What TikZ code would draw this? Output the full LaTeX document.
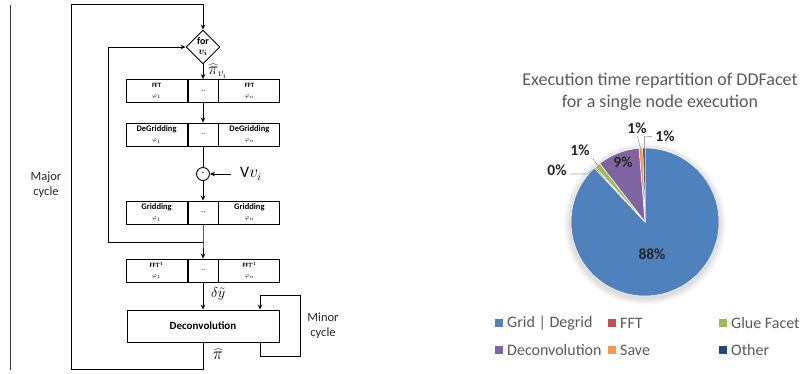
\documentclass[tikz,border=0pt]{standalone}
\usepackage{fontspec}
\setmainfont{Carlito}
\usetikzlibrary{positioning,shapes.geometric,arrows.meta}

\definecolor{GridBlue}{HTML}{4F81BD}
\definecolor{FftRed}{HTML}{C0504D}
\definecolor{GlueGreen}{HTML}{9BBB59}
\definecolor{DeconvPurple}{HTML}{8064A2}
\definecolor{SaveOrange}{HTML}{F79646}
\definecolor{OtherNavy}{HTML}{1F497D}
\definecolor{ChartGray}{HTML}{595959}

\tikzstyle{StageCell}=[rectangle, draw=black, line width=0.9pt, minimum width=61pt, minimum height=23pt, inner sep=0pt, align=center, font=\fontsize{8.5}{9}\selectfont\bfseries]
\tikzstyle{DotsCell}=[rectangle, draw=black, line width=0.9pt, minimum width=30pt, minimum height=23pt, inner sep=0pt, font=\fontsize{6}{7}\selectfont]
\tikzstyle{Flow}=[line width=0.9pt, -{Stealth[length=5pt,width=4.5pt]}]
\tikzstyle{Wire}=[line width=0.9pt]
\tikzstyle{CycleText}=[align=center, font=\fontsize{12.5}{15}\selectfont, text=black!85]
\tikzstyle{MathLabel}=[inner sep=0pt, font=\fontsize{16}{16}\selectfont]
\tikzstyle{PieLabel}=[font=\fontsize{15.5}{16}\selectfont\bfseries, text=black!85, inner sep=0pt]
\tikzstyle{Leader}=[draw=black!35, line width=0.6pt]
\tikzstyle{LegendText}=[font=\fontsize{16}{17}\selectfont, text=ChartGray, anchor=west, inner sep=0pt]

\newcommand{\phiidx}[1]{{\fontsize{6}{6}\selectfont\mdseries $\varphi_{#1}$}}

\begin{document}
\begin{tikzpicture}[x=1pt, y=1pt]
			\useasboundingbox (0,0) rectangle (803,-373);

			%Separador
			\draw[line width=0.8pt, black!80] (10,-5) -- (10,-370);

			%Nodos
			\node[diamond, draw=black, line width=0.9pt, minimum width=34pt, minimum height=34pt, inner sep=0pt,
				label={[align=center, inner sep=0pt, font=\fontsize{10}{9.5}\selectfont\bfseries\boldmath]center:for\\$v_i$}]
				(for) at (203,-47) {};

			\node[DotsCell]		(fft_dots)		at (203,-91)		{...};
			\node[StageCell, font=\fontsize{6.5}{8}\selectfont\bfseries]	(fft_first)	[left=0pt of fft_dots]	{FFT\\[2pt]\phiidx{1}};
			\node[StageCell, font=\fontsize{6.5}{8}\selectfont\bfseries]	(fft_last)	[right=0pt of fft_dots]	{FFT\\[2pt]\phiidx{n}};

			\node[DotsCell]		(degrid_dots)	at (203,-134.5)	{...};
			\node[StageCell]		(degrid_first)	[left=0pt of degrid_dots]	{DeGridding\\[1pt]\phiidx{1}};
			\node[StageCell]		(degrid_last)	[right=0pt of degrid_dots]	{DeGridding\\[1pt]\phiidx{n}};

			\node[circle, draw=black, line width=0.9pt, minimum size=13pt, inner sep=0pt, font=\small]	(minus)	at (203,-174)	{-};
			\node[MathLabel, anchor=west]	(vin)	at (240,-174)	{V$v_i$};

			\node[DotsCell]		(grid_dots)		at (203,-212.5)	{...};
			\node[StageCell]		(grid_first)	[left=0pt of grid_dots]		{Gridding\\[1pt]\phiidx{1}};
			\node[StageCell]		(grid_last)		[right=0pt of grid_dots]	{Gridding\\[1pt]\phiidx{n}};

			\node[DotsCell]		(ifft_dots)		at (203,-270.5)	{...};
			\node[StageCell, font=\fontsize{6.5}{8}\selectfont\bfseries]	(ifft_first)	[left=0pt of ifft_dots]		{FFT\textsuperscript{-1}\\[2pt]\phiidx{1}};
			\node[StageCell, font=\fontsize{6.5}{8}\selectfont\bfseries]	(ifft_last)		[right=0pt of ifft_dots]	{FFT\textsuperscript{-1}\\[2pt]\phiidx{n}};

			\node[rectangle, draw=black, line width=0.9pt, minimum width=152pt, minimum height=32pt, font=\fontsize{11}{12}\selectfont\bfseries]	(deconv)	at (203,-326)	{Deconvolution};

			\node[MathLabel, anchor=west]	(pihat_vi)	at (208,-71)	{$\widehat{\pi}_{v_i}$};
			\node[MathLabel, anchor=west, font=\fontsize{13.5}{14}\selectfont]	(dytilde)	at (211,-294)	{$\delta\tilde{y}$};
			\node[MathLabel]	(pihat)	at (218,-354)	{$\widehat{\pi}$};

			\node[CycleText]	(major_text)	at (46,-185)	{Major\\cycle};
			\node[CycleText]	(minor_text)	at (323,-326)	{Minor\\cycle};

			\coordinate (major_bot)		at (203,-369);
			\coordinate (major_left)	at (71,-4);
			\coordinate (inner_join)	at (203,-242);
			\coordinate (inner_left)	at (108,-47);
			\coordinate (minor_bot)		at (300,-356);
			\coordinate (minor_top)		at (300,-295);

			%Conexiones
			\draw[Flow] (deconv.south) -- (major_bot) -| (major_left) -| (for.north);
			\draw[Flow] (for.south) -- (fft_dots.north);
			\draw[Flow] (fft_dots.south) -- (degrid_dots.north);
			\draw[Wire] (degrid_dots.south) -- (minus.north);
			\draw[Flow] ([xshift=-9pt]vin.west) -- (minus.east);
			\draw[Flow] (minus.south) -- (grid_dots.north);
			\draw[Flow] (grid_dots.south) -- (inner_join) -- (ifft_dots.north);
			\draw[Flow] (inner_join) -| (inner_left) -- (for.west);
			\draw[Flow] (ifft_dots.south) -- (deconv.north);
			\draw[Flow] ([xshift=57pt]deconv.south) |- (minor_bot) -- (minor_top) -| ([xshift=57pt]deconv.north);

			%Grafico
			\node[font=\fontsize{18}{21.5}\selectfont, text=ChartGray, align=center]	(chart_title)	at (660,-92)	{Execution time repartition of DDFacet\\for a single node execution};

			\coordinate (pie_c) at (645,-222);
			\foreach \r in {1,...,7}
				\fill[black, opacity=0.018] ([yshift=-2pt]pie_c) circle[radius=74pt+\r pt];
			\foreach \a/\b/\col in {-226.8/90/GridBlue, 90/91.8/OtherNavy, 91.8/94.68/SaveOrange, 94.68/127.8/DeconvPurple, 127.8/132.12/GlueGreen, 132.12/133.2/FftRed}
				\fill[\col, draw=white, line width=0.5pt] (pie_c) -- ++(\a:74pt) arc[start angle=\a, end angle=\b, radius=74pt] -- cycle;

			\node[PieLabel]	(pct_grid)		at (652,-254)	{88\%};
			\node[PieLabel]	(pct_deconv)	at (623,-162)	{9\%};
			\node[PieLabel]	(pct_glue)		at (580,-150)	{1\%};
			\node[PieLabel]	(pct_fft)		at (557,-170)	{0\%};
			\node[PieLabel]	(pct_save)		at (637,-128)	{1\%};
			\node[PieLabel]	(pct_other)		at (665,-136)	{1\%};

			\draw[Leader] ([shift={(3pt,-3pt)}]pct_glue.south east) -- ([shift={(130:73pt)}]pie_c);
			\draw[Leader] ([shift={(3pt,-4pt)}]pct_fft.east) -- ++(17pt,0) -- ([shift={(132.7:73pt)}]pie_c);
			\draw[Leader] ([yshift=-2pt]pct_save.south) -- ([shift={(93.2:73pt)}]pie_c);
			\draw[Leader] ([xshift=-3pt]pct_other.west) -- ++(-7pt,0) -| ([shift={(90.9:73pt)}]pie_c);

			%Leyenda
			\foreach \x/\y/\col/\txt in {495/323/GridBlue/Grid | Degrid, 608/323/FftRed/FFT, 719/323/GlueGreen/Glue Facet, 495/350/DeconvPurple/Deconvolution, 608/350/SaveOrange/Save, 719/350/OtherNavy/Other}{
				\fill[\col] (\x,-\y-4) rectangle ++(8,8);
				\node[LegendText]	(legend_\col)	at (\x+12,-\y)	{\txt};
			}

		\end{tikzpicture}
\end{document}
